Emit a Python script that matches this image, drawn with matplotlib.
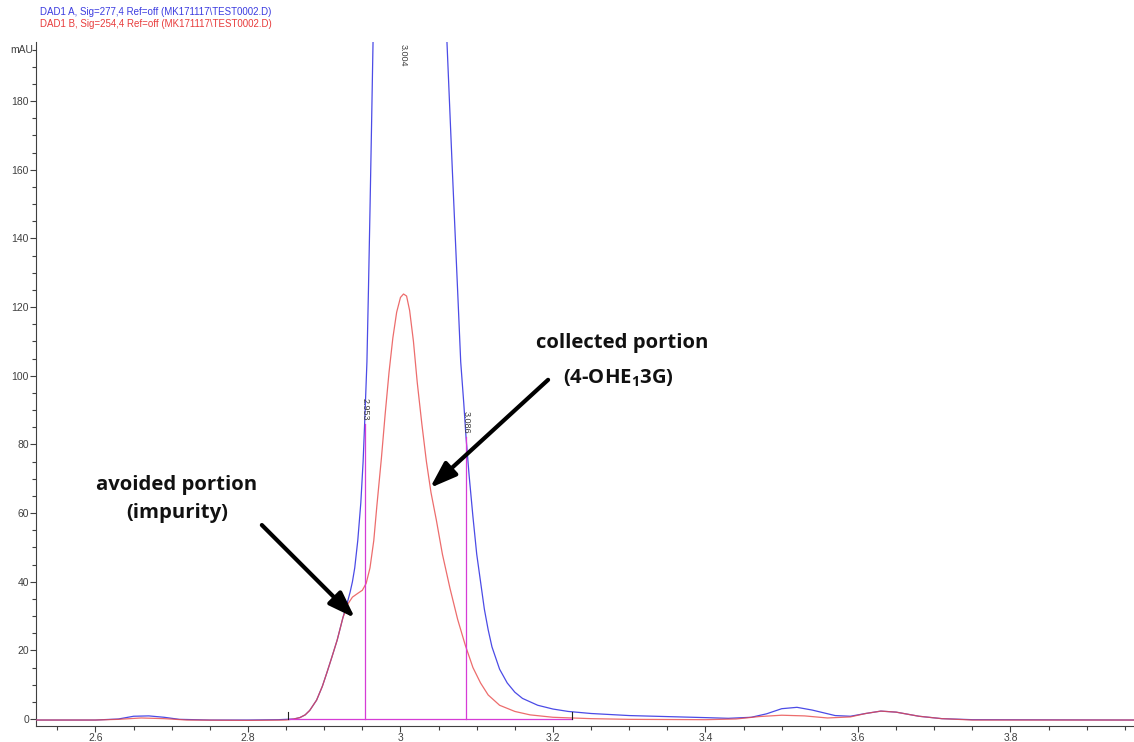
import numpy as np
import matplotlib.pyplot as plt

plt.rcParams['font.family'] = ['Liberation Sans', 'DejaVu Sans']
plt.rcParams['mathtext.fontset'] = 'custom'
plt.rcParams['mathtext.rm'] = 'Open Sans:bold'
plt.rcParams['mathtext.it'] = 'Open Sans:bold'

# DAD1 A, 277 nm (min, mAU)
blue_t = [2.522, 2.60, 2.63, 2.65, 2.67, 2.69, 2.71, 2.75, 2.80, 2.84, 2.86,
          2.868, 2.875, 2.881, 2.89, 2.8975, 2.9035, 2.91, 2.917, 2.9245, 2.931,
          2.934, 2.937, 2.940, 2.944, 2.948, 2.951, 2.953, 2.955, 2.956, 2.958,
          2.960, 2.962, 2.964, 2.972, 2.985, 3.004, 3.025, 3.045, 3.061, 3.068,
          3.0755, 3.079, 3.083, 3.086, 3.090, 3.095, 3.100, 3.105, 3.110, 3.115,
          3.12, 3.13, 3.14, 3.15, 3.16, 3.18, 3.20, 3.22, 3.25, 3.30, 3.35, 3.40,
          3.43, 3.46, 3.48, 3.50, 3.52, 3.54, 3.57, 3.59, 3.61, 3.63, 3.65, 3.68,
          3.71, 3.75, 3.962]
blue_v = [-0.3, -0.3, 0.0, 0.8, 0.9, 0.5, -0.1, -0.3, -0.3, -0.2, 0.0,
          0.4, 1.2, 2.5, 5.5, 9.5, 13.5, 18, 23, 29.5, 34.5,
          37, 40, 44, 52, 63, 75, 86, 98, 104, 125,
          148, 172, 197, 290, 400, 450, 400, 290, 197, 160,
          122, 104, 92, 82, 71, 59, 48, 40, 32, 26,
          21, 14.5, 10.5, 7.8, 6.0, 4.0, 2.9, 2.2, 1.6, 1.0, 0.7, 0.4,
          0.2, 0.5, 1.5, 3.0, 3.4, 2.6, 1.0, 0.8, 1.6, 2.3, 2.0, 0.8,
          0.1, -0.2, -0.3]

# DAD1 B, 254 nm
red_t = [2.522, 2.60, 2.63, 2.66, 2.69, 2.72, 2.80, 2.85, 2.86, 2.868, 2.875,
         2.881, 2.89, 2.8975, 2.9035, 2.91, 2.917, 2.9245, 2.931, 2.937, 2.944,
         2.950, 2.955, 2.960, 2.965, 2.969, 2.975, 2.980, 2.985, 2.990, 2.995,
         3.000, 3.004, 3.008, 3.012, 3.017, 3.022, 3.028, 3.034, 3.040, 3.047,
         3.055, 3.065, 3.075, 3.085, 3.095, 3.105, 3.115, 3.13, 3.15, 3.17,
         3.20, 3.25, 3.30, 3.40, 3.44, 3.47, 3.50, 3.53, 3.56, 3.59, 3.61, 3.63,
         3.65, 3.68, 3.71, 3.75, 3.962]
red_v = [-0.3, -0.3, -0.1, 0.3, 0.1, -0.3, -0.4, -0.3, 0.0, 0.4, 1.2,
         2.5, 5.5, 9.5, 13.5, 18, 23, 29.5, 33.5, 35.5, 36.6,
         37.5, 39.5, 44, 52, 62, 76, 89, 101, 111, 118.5,
         122.8, 123.8, 123.2, 119, 110, 98, 86, 75, 66, 58,
         48, 38, 29, 21.5, 15, 10.5, 7, 4, 2.2, 1.2,
         0.5, 0.1, -0.1, -0.2, 0.0, 0.7, 1.1, 0.9, 0.3, 0.6, 1.6, 2.3,
         2.0, 0.8, 0.1, -0.3, -0.3]

# integration events
peak_rt = [2.953, 3.004, 3.086]
cut_rt = [2.953, 3.086]
base_start, base_end = 2.853, 3.225

blue = '#4B4BE6'
red = '#E84848'
magenta = '#D63CD6'
grey = '#404040'

fig = plt.figure(figsize=(11.34, 7.42), dpi=100)
ax = fig.add_axes([36 / 1134, 16 / 742, 1 - 36 / 1134, (726 - 42) / 742])

ax.plot(blue_t, blue_v, color=blue, lw=0.9, zorder=3)
ax.plot(red_t, red_v, color=red, lw=0.9, alpha=0.8, zorder=4)

# baseline and cut lines
ax.plot([base_start, base_end], [0, 0], color=magenta, lw=0.9, zorder=5)
for rt in cut_rt:
    h = np.interp(rt, blue_t, blue_v)
    ax.plot([rt, rt], [0, h], color=magenta, lw=0.9, zorder=5)
    ax.text(rt, h + 1, f'{rt:.3f}', rotation=-90, ha='center', va='bottom',
            fontsize=6.5, color=grey, zorder=6)
for rt in [base_start, base_end]:
    ax.plot([rt, rt], [0, 2], color='#202020', lw=0.8, zorder=6)

ax.text(peak_rt[1] - 0.001, 196.5, f'{peak_rt[1]:.3f}', rotation=-90,
        ha='center', va='top', fontsize=6.5, color=grey)

ax.set_xlim(2.522, 3.962)
ax.set_ylim(-2.04, 197.2)
ax.set_xticks(np.arange(2.6, 3.81, 0.2))
ax.set_xticklabels(['2.6', '2.8', '3', '3.2', '3.4', '3.6', '3.8'])
ax.set_xticks(np.arange(2.55, 3.96, 0.05), minor=True)
ax.set_yticks(np.arange(0, 181, 20))
ax.set_yticks(np.arange(0, 196, 5), minor=True)
ax.tick_params(axis='both', which='both', direction='out', colors=grey,
               labelsize=7.5, width=0.8)
ax.tick_params(which='major', length=4)
ax.tick_params(which='minor', length=3)
ax.tick_params(axis='x', pad=1.2)
ax.tick_params(axis='y', pad=1)
for s in ['top', 'right']:
    ax.spines[s].set_visible(False)
for s in ['left', 'bottom']:
    ax.spines[s].set_color(grey)
    ax.spines[s].set_linewidth(0.8)
ax.text(-0.003, 195, 'mAU', transform=ax.get_yaxis_transform(),
        ha='right', va='center', fontsize=7.5, color=grey)

fig.text(40 / 1134, 1 - 12 / 742,
         'DAD1 A, Sig=277,4 Ref=off (MK171117\\TEST0002.D)',
         color='#3C3CE0', fontsize=7, va='center')
fig.text(40 / 1134, 1 - 24 / 742,
         'DAD1 B, Sig=254,4 Ref=off (MK171117\\TEST0002.D)',
         color='#E83C3C', fontsize=7, va='center')

# labels and arrows
lab = dict(fontsize=14.6, fontweight='bold', family='Open Sans',
           color='#111111', va='center', ha='center')
ax.text(2.7067, 68.1, 'avoided portion', **lab)
ax.text(2.7067, 59.9, '(impurity)', **lab)
ax.text(3.291, 109.4, 'collected portion', **lab)
ax.text(3.2865, 99.2, '(4-OHE$_1$3G)', **lab)

arrow = dict(arrowstyle='-|>,head_length=0.8,head_width=0.28',
             color='black', lw=3, mutation_scale=20, shrinkA=0, shrinkB=0)
ax.annotate('', xy=(3.0387, 67.3), xytext=(3.1936, 98.8), arrowprops=arrow,
            zorder=7)
ax.annotate('', xy=(2.9403, 29.4), xytext=(2.8182, 56.5), arrowprops=arrow,
            zorder=7)

fig.savefig('out.png', dpi=100)
